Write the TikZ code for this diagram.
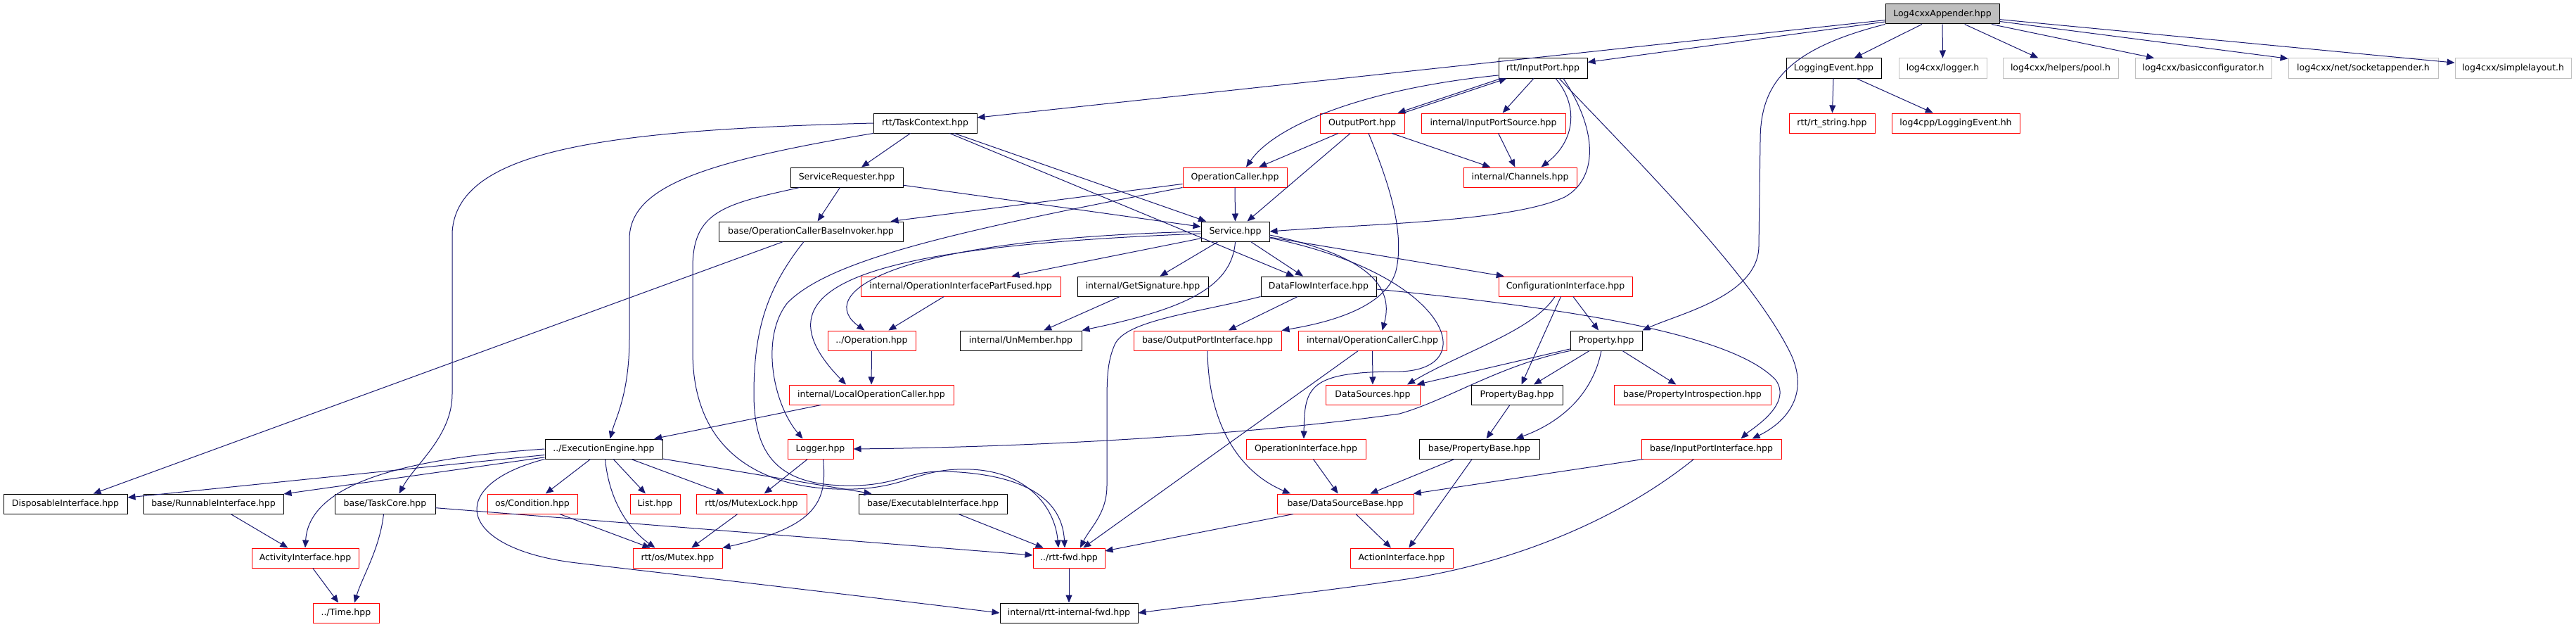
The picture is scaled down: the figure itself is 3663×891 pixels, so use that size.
\documentclass[tikz,border=0pt]{standalone}
\usepackage{fontspec}
\setmainfont{DejaVu Sans}
\usetikzlibrary{arrows.meta}
\definecolor{edgeblue}{HTML}{191970}
\definecolor{extgray}{HTML}{BFBFBF}
\tikzset{
  file/.style={draw=black, line width=1pt, fill=white, minimum height=28pt,
    inner sep=0pt, font=\fontsize{12.5}{15}\selectfont},
  filered/.style={file, draw=red},
  fileext/.style={file, draw=extgray},
  fileroot/.style={file, fill=extgray},
  incl/.style={draw=edgeblue, line width=1pt, -{Triangle[length=11pt,width=9pt]}},
}
\begin{document}
\begin{tikzpicture}[x=1pt,y=-1pt]
\useasboundingbox (0,0) rectangle (3663,891);

% row 0 and 1
\node[fileroot, minimum width=162pt] (app) at (2762,20) {Log4cxxAppender.hpp};
\node[file, minimum width=126pt] (inport) at (2194,97) {rtt/InputPort.hpp};
\node[file, minimum width=135pt] (logev) at (2607.5,97) {LoggingEvent.hpp};
\node[fileext, minimum width=125pt] (logger) at (2762.5,97) {log4cxx/logger.h};
\node[fileext, minimum width=164pt] (pool) at (2930,97) {log4cxx/helpers/pool.h};
\node[fileext, minimum width=194pt] (basiccfg) at (3133,97) {log4cxx/basicconfigurator.h};
\node[fileext, minimum width=213pt] (sockapp) at (3360.5,97) {log4cxx/net/socketappender.h};
\node[fileext, minimum width=165pt] (simplay) at (3573.5,97) {log4cxx/simplelayout.h};

% row 2 and 3
\node[file, minimum width=147pt] (tc) at (1315.5,175) {rtt/TaskContext.hpp};
\node[filered, minimum width=120pt] (outport) at (1937,175) {OutputPort.hpp};
\node[filered, minimum width=205pt] (inpsrc) at (2123.5,175) {internal/InputPortSource.hpp};
\node[filered, minimum width=122pt] (rtstr) at (2605,175) {rtt/rt\_string.hpp};
\node[filered, minimum width=182pt] (l4cppev) at (2781,175) {log4cpp/LoggingEvent.hh};
\node[file, minimum width=160pt] (servreq) at (1204,252) {ServiceRequester.hpp};
\node[filered, minimum width=148pt] (opcaller) at (1756,252) {OperationCaller.hpp};
\node[filered, minimum width=161pt] (channels) at (2161.5,252) {internal/Channels.hpp};

% row 4 and 5
\node[file, minimum width=262pt] (invoker) at (1153,329) {base/OperationCallerBaseInvoker.hpp};
\node[file, minimum width=97pt] (service) at (1756.5,329) {Service.hpp};
\node[filered, minimum width=284pt] (partfused) at (1366,407) {internal/OperationInterfacePartFused.hpp};
\node[file, minimum width=186pt] (getsig) at (1625,407) {internal/GetSignature.hpp};
\node[file, minimum width=164pt] (dataflow) at (1875,407) {DataFlowInterface.hpp};
\node[filered, minimum width=190pt] (confif) at (2226,407) {ConfigurationInterface.hpp};

% row 6 and 7
\node[filered, minimum width=125pt] (operation) at (1239.5,484) {../Operation.hpp};
\node[file, minimum width=173pt] (unmember) at (1451.5,484) {internal/UnMember.hpp};
\node[filered, minimum width=210pt] (outportif) at (1717,484) {base/OutputPortInterface.hpp};
\node[filered, minimum width=211pt] (opcallerc) at (1951.5,484) {internal/OperationCallerC.hpp};
\node[file, minimum width=102pt] (property) at (2284,484) {Property.hpp};
\node[filered, minimum width=234pt] (localop) at (1239,561) {internal/LocalOperationCaller.hpp};
\node[filered, minimum width=134pt] (datasrc) at (1952,561) {DataSources.hpp};
\node[file, minimum width=130pt] (propbag) at (2157,561) {PropertyBag.hpp};
\node[filered, minimum width=223pt] (propintro) at (2406.5,561) {base/PropertyIntrospection.hpp};

% row 8
\node[file, minimum width=167pt] (engine) at (858.5,638) {../ExecutionEngine.hpp};
\node[filered, minimum width=93pt] (logger2) at (1166.5,638) {Logger.hpp};
\node[filered, minimum width=170pt] (opif) at (1857,638) {OperationInterface.hpp};
\node[file, minimum width=171pt] (propbase) at (2103.5,638) {base/PropertyBase.hpp};
\node[filered, minimum width=199pt] (inportif) at (2433.5,638) {base/InputPortInterface.hpp};

% row 9
\node[file, minimum width=176pt] (dispos) at (93,716) {DisposableInterface.hpp};
\node[file, minimum width=199pt] (runnable) at (303.5,716) {base/RunnableInterface.hpp};
\node[file, minimum width=143pt] (taskcore) at (547.5,716) {base/TaskCore.hpp};
\node[filered, minimum width=128pt] (condition) at (757,716) {os/Condition.hpp};
\node[filered, minimum width=71pt] (list) at (931.5,716) {List.hpp};
\node[filered, minimum width=157pt] (mutexlock) at (1068.5,716) {rtt/os/MutexLock.hpp};
\node[file, minimum width=211pt] (execif) at (1326.5,716) {base/ExecutableInterface.hpp};
\node[filered, minimum width=194pt] (dsbase) at (1913,716) {base/DataSourceBase.hpp};

% row 10 and 11
\node[filered, minimum width=152pt] (activity) at (434,793) {ActivityInterface.hpp};
\node[filered, minimum width=127pt] (mutex) at (963.5,793) {rtt/os/Mutex.hpp};
\node[filered, minimum width=102pt] (rttfwd) at (1520,793) {../rtt-fwd.hpp};
\node[filered, minimum width=146pt] (action) at (1993,793) {ActionInterface.hpp};
\node[filered, minimum width=94pt] (time) at (492,871) {../Time.hpp};
\node[file, minimum width=196pt] (intfwd) at (1520,871) {internal/rtt-internal-fwd.hpp};

% Log4cxxAppender
\draw[incl] (app) -- (tc);
\draw[incl] (app) -- (inport);
\draw[incl] (app.south west) .. controls (2540,70) and (2503,120) .. (2503,200) -- (2501,350)
  .. controls (2500,420) and (2390,445) .. (property.north east);
\draw[incl] (app) -- (logev);
\draw[incl] (app) -- (logger);
\draw[incl] (app) -- (pool);
\draw[incl] (app) -- (basiccfg);
\draw[incl] (app) -- (sockapp);
\draw[incl] (app) -- (simplay);
\draw[incl] (logev) -- (rtstr);
\draw[incl] (logev) -- (l4cppev);

% ports
\draw[incl] ([xshift=4pt]inport.south west) -- ([xshift=-10pt]outport.north east);
\draw[incl] ([xshift=-2pt]outport.north east) -- ([xshift=12pt]inport.south west);
\draw[incl] ([yshift=-10pt]inport.west) .. controls (1950,125) and (1815,175) .. ([xshift=16pt]opcaller.north);
\draw[incl] (inport) -- (inpsrc);
\draw[incl] ([xshift=18pt]inport.south) .. controls (2245,150) and (2240,200) .. ([xshift=30pt]channels.north);
\draw[incl] ([xshift=29pt]inport.south) .. controls (2275,190) and (2270,255) .. (2225,280)
  .. controls (2150,315) and (1950,318) .. (service.east);
\draw[incl] ([xshift=23pt]inport.south) .. controls (2330,230) and (2490,390) .. (2545,500)
  .. controls (2575,560) and (2540,600) .. ([xshift=58pt]inportif.north);
\draw[incl] (inpsrc) -- (channels);
\draw[incl] (outport) -- (opcaller);
\draw[incl] (outport) -- (service);
\draw[incl] (outport) -- (channels);
\draw[incl] ([xshift=9pt]outport.south) .. controls (1975,260) and (1998,330) .. (1985,385)
  .. controls (1970,440) and (1880,460) .. (outportif.north east);

% TaskContext
\draw[incl] (tc) -- (servreq);
\draw[incl] (tc) -- (service);
\draw[incl] (tc) -- (dataflow);
\draw[incl] (tc.west) .. controls (850,185) and (650,215) .. (643,330) -- (643,560)
  .. controls (643,620) and (590,660) .. ([xshift=20pt]taskcore.north);
\draw[incl] (tc.south west) .. controls (1000,230) and (895,265) .. (895,340) -- (895,480)
  .. controls (895,560) and (875,595) .. ([xshift=9pt]engine.north);

% ServiceRequester, invoker, OperationCaller
\draw[incl] (servreq) -- (invoker);
\draw[incl] (servreq) -- (service);
\draw[incl] ([xshift=-67pt]servreq.south) .. controls (1030,290) and (985,300) .. (985,380) -- (985,500)
  .. controls (985,640) and (1080,692) .. (1190,695) .. controls (1290,698) and (1300,664) .. (1380,667)
  .. controls (1460,670) and (1500,720) .. ([xshift=-15pt]rttfwd.north);
\draw[incl] (invoker) -- (dispos);
\draw[incl] ([xshift=-10pt]invoker.south) .. controls (1090,410) and (1072,470) .. (1072,560)
  .. controls (1072,650) and (1110,688) .. (1200,690) .. controls (1275,692) and (1290,668) .. (1345,670)
  .. controls (1440,673) and (1510,700) .. ([xshift=-6pt]rttfwd.north);
\draw[incl] (opcaller) -- (invoker);
\draw[incl] (opcaller) -- (service);
\draw[incl] (opcaller.south west) .. controls (1350,330) and (1180,370) .. (1120,430)
  .. controls (1080,480) and (1100,575) .. ([xshift=-25pt]logger2.north);

% Service
\draw[incl] (service.west) .. controls (1250,340) and (1160,420) .. ([xshift=-10pt]operation.north);
\draw[incl] ([yshift=-3pt]service.west) .. controls (1250,350) and (1060,400) .. ([xshift=-36pt]localop.north);
\draw[incl] (service) -- (partfused);
\draw[incl] (service) -- (getsig);
\draw[incl] (service) -- (dataflow);
\draw[incl] (service) -- (confif);
\draw[incl] (service.south) .. controls (1752,410) and (1680,440) .. (unmember.north east);
\draw[incl] ([yshift=-5pt]service.east) .. controls (1930,360) and (1985,400) .. ([xshift=14pt]opcallerc.north);
\draw[incl] ([yshift=-9pt]service.east) .. controls (2060,390) and (2110,525) .. (1990,528)
  .. controls (1860,528) and (1855,550) .. ([xshift=-3pt]opif.north);

% DataFlowInterface
\draw[incl] (dataflow) -- (outportif);
\draw[incl] (dataflow.south west) .. controls (1700,445) and (1600,455) .. (1585,490)
  .. controls (1574,515) and (1574,540) .. (1574,580) -- (1574,690)
  .. controls (1574,730) and (1550,750) .. ([xshift=16pt]rttfwd.north);
\draw[incl] ([yshift=-4pt]dataflow.east) .. controls (2200,435) and (2460,470) .. (2525,540)
  .. controls (2550,575) and (2490,610) .. ([xshift=42pt]inportif.north);
\draw[incl] (opcallerc) -- (datasrc);
\draw[incl] (opcallerc) -- (rttfwd);
\draw[incl] (outportif.south) .. controls (1718,600) and (1760,670) .. ([xshift=-78pt]dsbase.north);

% properties
\draw[incl] (confif) -- (property);
\draw[incl] (confif) -- (propbag);
\draw[incl] ([xshift=-15pt]confif.south) .. controls (2180,470) and (2080,500) .. ([xshift=49pt]datasrc.north);
\draw[incl] (property) -- (datasrc);
\draw[incl] (property.south west) .. controls (2130,520) and (2060,568) .. (1990,588)
  .. controls (1800,615) and (1500,635) .. (logger2.east);
\draw[incl] (property) -- (propbag);
\draw[incl] ([xshift=-7pt]property.south) .. controls (2265,560) and (2220,600) .. ([xshift=52pt]propbase.north);
\draw[incl] (property) -- (propintro);
\draw[incl] (propbag) -- (propbase);
\draw[incl] (propbase) -- (dsbase);
\draw[incl] (propbase) -- (action);
\draw[incl] (inportif) -- (dsbase);
\draw[incl] ([xshift=-25pt]inportif.south) .. controls (2300,740) and (2150,800) .. (2000,823)
  .. controls (1850,845) and (1700,860) .. (intfwd.east);
\draw[incl] (opif) -- (dsbase);
\draw[incl] (dsbase) -- (rttfwd);
\draw[incl] (dsbase) -- (action);
\draw[incl] (rttfwd) -- (intfwd);

% operations
\draw[incl] (partfused) -- (operation);
\draw[incl] (operation) -- (localop);
\draw[incl] (getsig) -- (unmember);
\draw[incl] (localop) -- (engine);
\draw[incl] (logger2) -- (mutexlock);
\draw[incl] ([xshift=4pt]logger2.south) .. controls (1176,710) and (1165,748) .. (mutex.north east);

% ExecutionEngine
\draw[incl] (engine) -- (dispos);
\draw[incl] (engine) -- (runnable);
\draw[incl] (engine.west) .. controls (600,650) and (440,680) .. (activity.north);
\draw[incl] (engine) -- (condition);
\draw[incl] (engine) -- (list);
\draw[incl] ([xshift=2pt]engine.south) .. controls (865,700) and (885,745) .. ([xshift=-32pt]mutex.north);
\draw[incl] (engine) -- (mutexlock);
\draw[incl] (engine) -- (execif);
\draw[incl] (engine.south west) .. controls (630,690) and (650,780) .. (820,800)
  .. controls (1000,821) and (1250,850) .. (intfwd.west);
\draw[incl] (condition) -- (mutex);
\draw[incl] (mutexlock) -- (mutex);
\draw[incl] (runnable) -- (activity);
\draw[incl] (activity) -- (time);
\draw[incl] ([xshift=-2pt]taskcore.south) .. controls (540,780) and (515,820) .. ([xshift=12pt]time.north);
\draw[incl] (taskcore) -- (rttfwd);
\draw[incl] (execif) -- (rttfwd);
\end{tikzpicture}
\end{document}
